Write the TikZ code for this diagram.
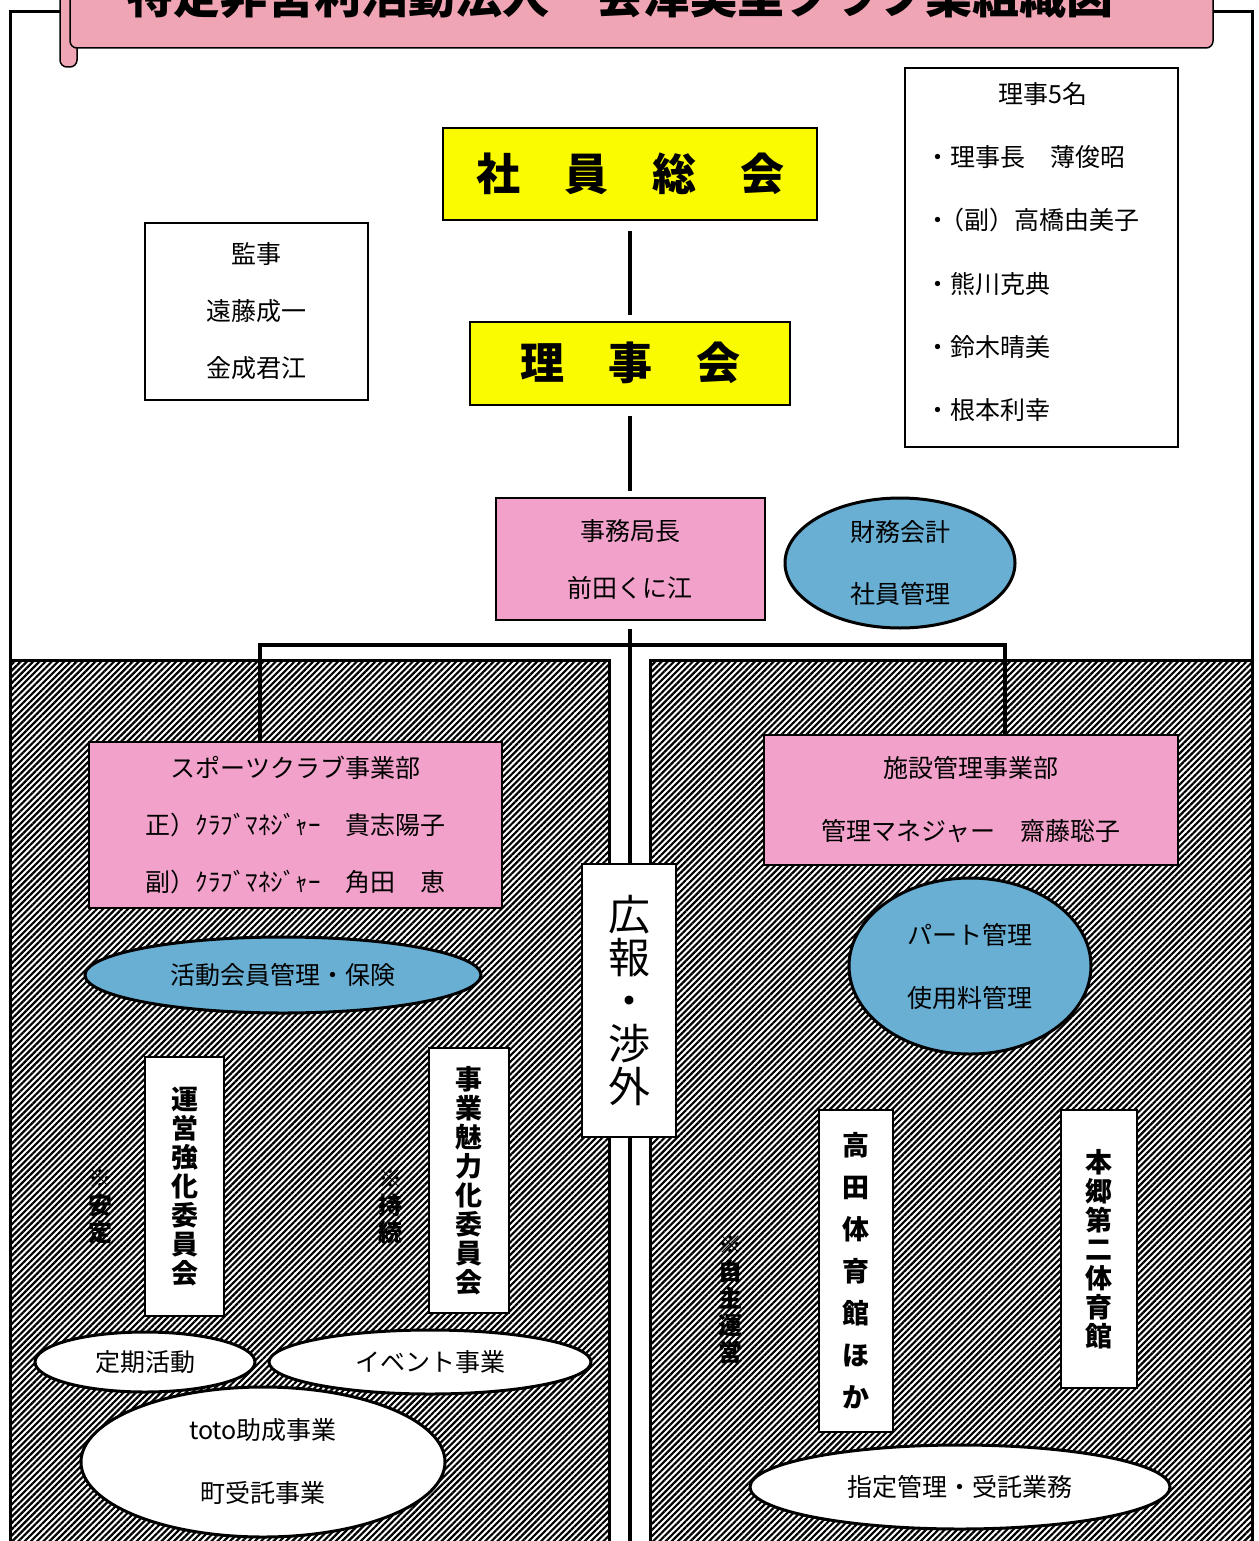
\documentclass[tikz,border=0pt]{standalone}
\usepackage{fontspec}
\setmainfont{Noto Sans CJK JP}
\usetikzlibrary{shapes.geometric,patterns.meta}

\definecolor{titlepink}{RGB}{240,165,180}
\definecolor{boxpink}{RGB}{242,162,202}
\definecolor{ovalblue}{RGB}{105,175,212}
\definecolor{boxyellow}{RGB}{250,250,0}

\tikzset{
	hatchpanel/.style={draw, line width=3pt, pattern={Lines[angle=45,distance=4.4pt,line width=2.2pt]}, pattern color=black},
	plainbox/.style={draw, fill=white, line width=2pt, inner sep=0pt, align=center, font=\fontsize{25}{57}\selectfont},
	yellowbox/.style={draw, fill=boxyellow, line width=2pt, inner sep=0pt, font=\fontsize{44}{48}\selectfont\bfseries},
	pinkbox/.style={draw, fill=boxpink, line width=2pt, inner sep=0pt, align=center, font=\fontsize{25}{57}\selectfont},
	blueoval/.style={ellipse, draw, fill=ovalblue, line width=3pt, inner sep=0pt, align=center, font=\fontsize{25}{62}\selectfont},
	whiteoval/.style={ellipse, draw, fill=white, line width=3pt, inner sep=0pt, align=center, font=\fontsize{25}{63}\selectfont},
	vbox/.style={draw, fill=white, line width=2pt, inner sep=0pt, align=center, font=\fontsize{27}{29}\selectfont\bfseries},
	vnote/.style={align=center, font=\fontsize{24}{27}\selectfont\bfseries},
	link/.style={line width=4pt}
}

\begin{document}
\begin{tikzpicture}[x=1pt,y=-1pt]
	\useasboundingbox (0,0) rectangle (1258,1541);
	\clip (0,0) rectangle (1258,1541);

	%Shape: Frame
	\draw [line width=3pt] (10,12) rectangle (1252,1560);
	%Shape: Title banner
	\draw [fill=titlepink, line width=1.5pt, rounded corners=7pt] (60,-20) rectangle (77,67);
	\draw [fill=titlepink, line width=1.5pt, rounded corners=7pt] (70,-20) rectangle (1213,48);
	\node (title) [anchor=base, font=\fontsize{47}{50}\selectfont\bfseries] at (620,14) {特定非営利活動法人　会津美里クラブ業組織図};

	%Shape: Hatched panels
	\draw [hatchpanel] (10,660) rectangle (609,1560);
	\draw [hatchpanel] (650,660) rectangle (1252,1560);

	%Top part
	\node (general) [yellowbox, minimum width=374pt, minimum height=92pt] at (630,174) {社　員　総　会};
	\node (board) [yellowbox, minimum width=320pt, minimum height=83pt] at (630,363) {理　事　会};
	\node (auditor) [plainbox, minimum width=223pt, minimum height=177pt] at (256.5,311.5) {監事\\遠藤成一\\金成君江};
	\node (directors) [plainbox, minimum width=273pt, minimum height=379pt] at (1041.5,257.5) {};
	\node (dirhead) [font=\fontsize{25}{30}\selectfont] at (1043,94) {理事5名};
	\foreach \who [count=\i] in {理事長　薄俊昭, \hspace{-0.45em}（副）高橋由美子, 熊川克典, 鈴木晴美, 根本利幸}
		\node (dir\i) [anchor=west, font=\fontsize{25}{30}\selectfont] at (922,{94+63.2*\i}) {・\who};
	\node (office) [pinkbox, minimum width=269pt, minimum height=122pt] at (630,559) {事務局長\\前田くに江};
	\node (finance) [blueoval, minimum width=230pt, minimum height=130pt] at (900,563) {財務会計\\社員管理};

	%Connectors
	\coordinate (busL) at (260,645);
	\coordinate (busR) at (1005,645);
	\coordinate (ctrbot) at (630,1560);
	\draw [link, shorten <=10pt, shorten >=6pt] (general.south) -- (board.north);
	\draw [link, shorten <=10pt, shorten >=6pt] (board.south) -- (office.north);
	\draw [link, shorten <=8pt] (office.south) -- (ctrbot);

	%Sports club side
	\node (club) [pinkbox, minimum width=413pt, minimum height=166pt] at (295.5,825) {スポーツクラブ事業部\\正）ｸﾗﾌﾞﾏﾈｼﾞｬｰ　貴志陽子\\副）ｸﾗﾌﾞﾏﾈｼﾞｬｰ　角田　恵};
	\node (members) [blueoval, minimum width=396pt, minimum height=76pt] at (283,975) {活動会員管理・保険};
	\node (manage) [vbox, minimum width=79pt, minimum height=259pt] at (184.5,1186.5) {運\\営\\強\\化\\委\\員\\会};
	\node (appeal) [vbox, minimum width=80pt, minimum height=265pt] at (469,1180.5) {事\\業\\魅\\力\\化\\委\\員\\会};
	\node (stable) [vnote] at (100,1207) {※\\安\\定};
	\node (sustain) [vnote] at (390,1207) {※\\持\\続};
	\node (regular) [whiteoval, minimum width=220pt, minimum height=60pt] at (145,1362) {定期活動};
	\node (event) [whiteoval, minimum width=322pt, minimum height=64pt] at (430,1362) {イベント事業};
	\node (toto) [whiteoval, minimum width=364pt, minimum height=150pt] at (263,1462) {toto助成事業\\町受託事業};

	%Facility side
	\node (facility) [pinkbox, minimum width=414pt, minimum height=130pt, font=\fontsize{25}{63}\selectfont] at (971,800) {施設管理事業部\\管理マネジャー　齋藤聡子};
	\node (parttime) [blueoval, minimum width=242pt, minimum height=176pt, font=\fontsize{25}{63}\selectfont] at (970,966) {パート管理\\使用料管理};
	\node (takada) [vbox, minimum width=74pt, minimum height=322pt, font=\fontsize{27}{42}\selectfont\bfseries] at (856,1271) {高\\田\\体\\育\\館\\ほ\\か};
	\node (hongo) [vbox, minimum width=76pt, minimum height=278pt] at (1099,1249) {本\\郷\\第\\二\\体\\育\\館};
	\node (selfrun) [vnote] at (730,1300) {※\\自\\主\\運\\営};
	\node (contract) [whiteoval, minimum width=420pt, minimum height=84pt] at (960,1487) {指定管理・受託業務};

	%Bus to both departments
	\draw [link] (club.north -| busL) -- (busL) -- (busR) -- (facility.north -| busR);

	%Public relations box on the centre line
	\node (pr) [vbox, minimum width=94pt, minimum height=273pt, font=\fontsize{42}{43}\selectfont] at (629,1000.5) {広\\報\\・\\渉\\外};
\end{tikzpicture}
\end{document}
